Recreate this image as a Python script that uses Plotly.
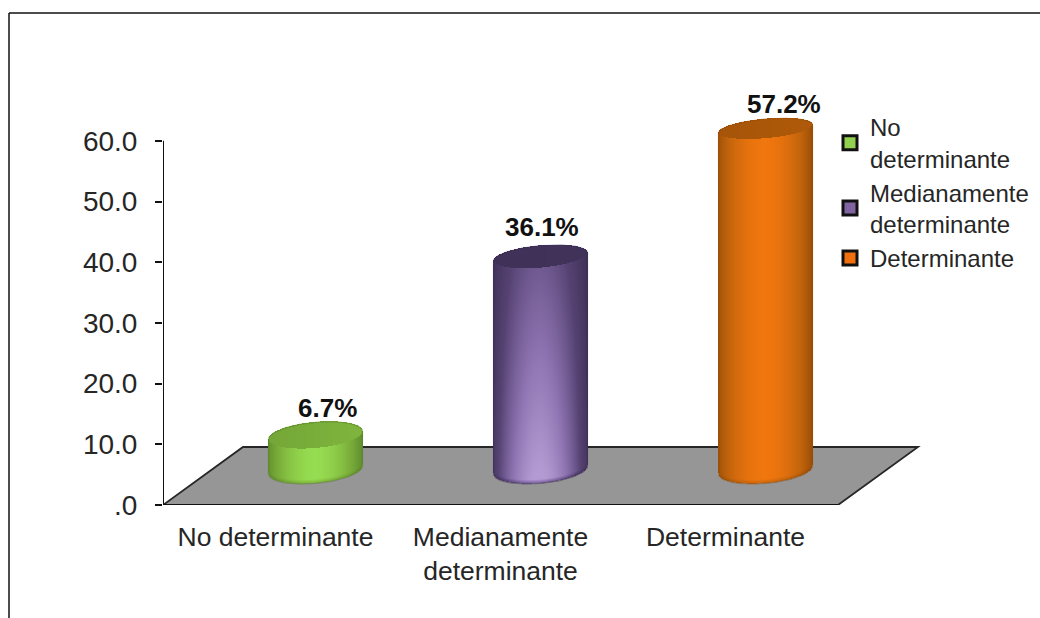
import numpy as np
import plotly.graph_objects as go

# Chart data
categories = ["No determinante", "Medianamente<br>determinante", "Determinante"]
legend_names = ["No<br>determinante", "Medianamente<br>determinante", "Determinante"]
percent_values = [6.7, 36.1, 57.2]
y_ticks = [0, 10, 20, 30, 40, 50, 60]
y_tick_labels = [".0", "10.0", "20.0", "30.0", "40.0", "50.0", "60.0"]

# Plot geometry: pixels per axis unit and the oblique depth of the floor
PX_PER_CAT = 225.0
PX_PER_VAL = 6.07
LEFT, BOTTOM_Y, PLOT_W, PLOT_H = 163, 505, 760, 405
W, H = 1040, 618
DEPTH_X = 80 / PX_PER_CAT
DEPTH_Y = 58 / PX_PER_VAL
X_RANGE = [-0.5, -0.5 + PLOT_W / PX_PER_CAT]
Y_RANGE = [0, PLOT_H / PX_PER_VAL]

FONT = "Liberation Sans, Arial, sans-serif"
TEXT = "#262626"
RADIUS_PX = 47.0
SHEAR_PX = 4.0
BASE_LIFT = 1.0  # cylinder bases sit slightly behind the middle of the floor

scales = [
    [[0, "#557f28"], [0.55, "#7db23c"], [1, "#96dc50"]],
    [[0, "#382b4f"], [0.35, "#554272"], [0.7, "#8a70ad"], [1, "#b49ad2"]],
    [[0, "#8a4505"], [0.5, "#c2640c"], [1, "#f0760e"]],
]
swatches = ["#92d050", "#8064a2", "#f07010"]
rims = ["rgba(90,130,40,0.5)", "rgba(60,45,85,0.5)", "rgba(150,75,8,0.5)"]
vertical_fade = [(1.0, 1.0), (0.5, 1.0), (1.0, 1.0)]  # brightness at top, bottom of the side
cap_levels = [0.52, 0.10, 0.30]
label_shift = [(12, 27), (1, 30), (18, 25)]


def cylinder_layers(i, value):
    """Shaded body and rim of one cylinder, in axis units, sized from its value."""
    cx = i + DEPTH_X / 2
    top_c = value + DEPTH_Y / 2
    bot_c = DEPTH_Y / 2 + BASE_LIFT
    ry_top = 13.5 - 0.065 * value
    ry_bot = 13.5

    xs_px = np.arange(-RADIUS_PX, RADIUS_PX + 0.5, 1.0)
    ys = np.arange(bot_c - 20 / PX_PER_VAL, top_c + 20 / PX_PER_VAL, 1 / PX_PER_VAL)
    u = xs_px / RADIUS_PX
    root = np.sqrt(np.clip(1 - u**2, 0, 1))
    tilt = SHEAR_PX * u / PX_PER_VAL

    top_upper = top_c + ry_top * root / PX_PER_VAL + tilt
    top_lower = top_c - ry_top * root / PX_PER_VAL + tilt
    bot_lower = bot_c - ry_bot * root / PX_PER_VAL + tilt

    fade_top, fade_bot = vertical_fade[i]
    across = 1 - 0.82 * np.abs(u + 0.02) ** 1.8
    z = np.full((ys.size, xs_px.size), np.nan)
    for r, y in enumerate(ys):
        side = (y >= bot_lower) & (y <= top_lower)
        cap = (y > top_lower) & (y <= top_upper)
        along = (y - bot_c) / max(top_c - bot_c, 1e-6)
        fade = fade_bot + (fade_top - fade_bot) * along
        rim = np.clip((y - bot_lower) * PX_PER_VAL / 4.0, 0, 1)
        z[r, side] = (across * fade * (0.55 + 0.45 * rim))[side]
        z[r, cap] = (cap_levels[i] * (0.82 + 0.3 * (u + 1) / 2))[cap]

    body = go.Heatmap(
        x=cx + xs_px / PX_PER_CAT, y=ys, z=z, zmin=0, zmax=1,
        colorscale=scales[i], showscale=False, hoverinfo="skip", showlegend=False,
    )
    t = np.linspace(0, 2 * np.pi, 121)
    ou = np.cos(t)
    top_half = np.sin(t) >= 0
    outline_x = np.concatenate([ou[top_half], ou[~top_half]])
    outline_y = np.concatenate([
        top_c + (ry_top * np.sin(t[top_half]) + SHEAR_PX * ou[top_half]) / PX_PER_VAL,
        bot_c + (ry_bot * np.sin(t[~top_half]) + SHEAR_PX * ou[~top_half]) / PX_PER_VAL,
    ])
    rim_line = go.Scatter(
        x=np.append(cx + outline_x * RADIUS_PX / PX_PER_CAT, cx + outline_x[0] * RADIUS_PX / PX_PER_CAT),
        y=np.append(outline_y, outline_y[0]),
        mode="lines", line=dict(color=rims[i], width=1.2),
        hoverinfo="skip", showlegend=False,
    )
    return body, rim_line


def paper_x(px):
    return (px - LEFT) / PLOT_W


def paper_y(py):
    return (BOTTOM_Y - py) / PLOT_H


fig = go.Figure()

for i, value in enumerate(percent_values):
    for layer in cylinder_layers(i, value):
        fig.add_trace(layer)

# Axis lines stop at the last tick and at the floor's front edge
fig.add_trace(go.Scatter(
    x=[-0.5, -0.5, 2.5], y=[y_ticks[-1], 0, 0], mode="lines",
    line=dict(color="#111111", width=2), hoverinfo="skip", showlegend=False,
))

# Legend entries
for name, colour in zip(legend_names, swatches):
    fig.add_trace(go.Scatter(
        x=[None], y=[None], mode="markers", name=name,
        marker=dict(symbol="square", size=14, color=colour, line=dict(color="#111111", width=3)),
    ))

floor_path = (
    f"M -0.5 0 L {-0.5 + DEPTH_X} {DEPTH_Y} L {2.5 + DEPTH_X} {DEPTH_Y} L 2.5 0 Z"
)
shapes = [
    dict(type="path", path=floor_path, xref="x", yref="y", layer="below",
         fillcolor="#969696", line=dict(color="#262626", width=1.8)),
    dict(type="line", xref="paper", yref="paper", x0=paper_x(9), x1=paper_x(9),
         y0=paper_y(13), y1=paper_y(630), line=dict(color="#111111", width=1.5)),
    dict(type="line", xref="paper", yref="paper", x0=paper_x(9), x1=paper_x(1060),
         y0=paper_y(13), y1=paper_y(13), line=dict(color="#111111", width=1.5)),
]

annotations = [
    dict(
        x=i + DEPTH_X / 2, y=value + DEPTH_Y / 2, xref="x", yref="y",
        text=f"<b>{value}%</b>", showarrow=False,
        xshift=label_shift[i][0], yshift=label_shift[i][1],
        font=dict(family=FONT, size=26, color="#111111"),
    )
    for i, value in enumerate(percent_values)
]

fig.update_layout(
    width=W, height=H,
    margin=dict(l=LEFT, r=W - LEFT - PLOT_W, t=BOTTOM_Y - PLOT_H, b=H - BOTTOM_Y, pad=0,
                autoexpand=False),
    paper_bgcolor="white", plot_bgcolor="rgba(0,0,0,0)",
    font=dict(family=FONT, color=TEXT),
    shapes=shapes, annotations=annotations,
    legend=dict(
        x=paper_x(830), y=paper_y(105), xanchor="left", yanchor="top",
        bgcolor="rgba(0,0,0,0)", font=dict(family=FONT, size=24, color=TEXT),
        tracegroupgap=0, itemclick=False, itemdoubleclick=False,
    ),
    xaxis=dict(
        range=X_RANGE, tickmode="array", tickvals=[0, 1, 2], ticktext=categories,
        showgrid=False, zeroline=False, showline=False, ticks="",
        tickfont=dict(family=FONT, size=26.5, color=TEXT), ticklabelstandoff=13,
        tickangle=0,
    ),
    yaxis=dict(
        range=Y_RANGE, tickmode="array", tickvals=y_ticks, ticktext=y_tick_labels,
        showgrid=False, zeroline=False, showline=False,
        ticks="outside", ticklen=7, tickwidth=2, tickcolor="#111111",
        tickfont=dict(family=FONT, size=28, color=TEXT), ticklabelstandoff=12,
    ),
)

fig.write_html("out.html")
